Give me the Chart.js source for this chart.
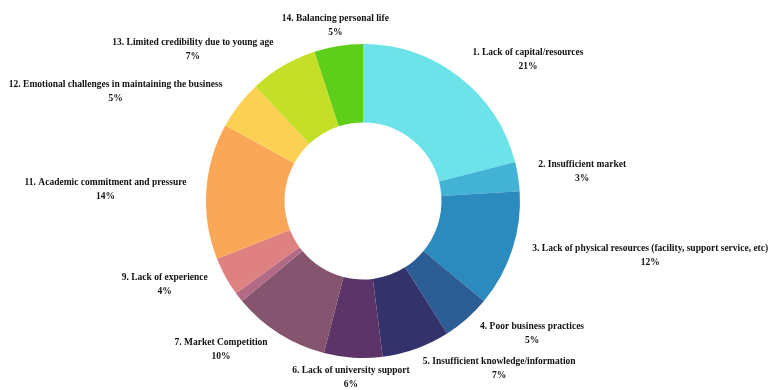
<!DOCTYPE html>
<html lang="en">
<head>
    <meta charset="UTF-8">
    <title>Challenges</title>
    <script src="https://cdn.jsdelivr.net/npm/chart.js@4.4.1/dist/chart.umd.min.js"></script>
    <style>
        body { margin: 0; background: #fff; }
        #wrap { width: 768px; height: 390px; position: relative; }
    </style>
</head>
<body>
<div id="wrap">
    <canvas id="chart"></canvas>
</div>
<script>
    const categories = [
        '1. Lack of capital/resources',
        '2. Insufficient market',
        '3. Lack of physical resources (facility, support service, etc)',
        '4. Poor business practices',
        '5. Insufficient knowledge/information',
        '6. Lack of university support',
        '7. Market Competition',
        '8.',
        '9. Lack of experience',
        '11. Academic commitment and pressure',
        '12. Emotional challenges in maintaining the business',
        '13. Limited credibility due to young age',
        '14. Balancing personal life'
    ];
    const shares = [21, 3, 12, 5, 7, 6, 10, 1, 4, 14, 5, 7, 5];
    const sliceColors = [
        '#6be3e8', '#43b3d5', '#2b8bbe', '#2c5e95', '#33326b', '#5c3468',
        '#85546f', '#b16b84', '#df8081', '#fba758', '#fcd052', '#c5de27', '#5ece1b'
    ];

    // labels sit outside the ring; a few are moved by hand so they don't crowd
    const labelNudge = [
        [20, 13], [-3, 1], [3, -6], [15, -14], [49, -16], [3, -18], [-20, -16],
        [0, 0], [-2, -10], [4, 1], [-20, 10], [-37, 16], [9, 17]
    ];

    const outsideLabels = {
        id: 'outsideLabels',
        afterDatasetsDraw(chart) {
            const ctx = chart.ctx;
            const arcs = chart.getDatasetMeta(0).data;
            ctx.save();
            ctx.font = 'bold 9.5px "Liberation Serif", "Times New Roman", serif';
            ctx.fillStyle = '#111';
            ctx.textAlign = 'center';
            ctx.textBaseline = 'middle';
            arcs.forEach((arc, i) => {
                if (shares[i] < 2) return;
                const p = arc.getProps(['x', 'y', 'startAngle', 'endAngle', 'outerRadius'], true);
                const mid = (p.startAngle + p.endAngle) / 2;
                const dx = Math.cos(mid), dy = Math.sin(mid);
                const line1 = categories[i];
                const line2 = shares[i] + '%';
                const w = Math.max(ctx.measureText(line1).width, ctx.measureText(line2).width);
                const h = 28;
                const r = p.outerRadius + 24;
                const cx = p.x + dx * r + dx * w / 2 + labelNudge[i][0];
                const cy = p.y + dy * r + dy * h / 2 + labelNudge[i][1];
                ctx.fillText(line1, cx, cy - 7);
                ctx.fillText(line2, cx, cy + 7);
            });
            ctx.restore();
        }
    };

    new Chart(document.getElementById('chart'), {
        type: 'doughnut',
        data: {
            labels: categories,
            datasets: [{
                data: shares,
                backgroundColor: sliceColors,
                borderWidth: 0
            }]
        },
        options: {
            responsive: true,
            maintainAspectRatio: false,
            animation: false,
            cutout: '50%',
            layout: { padding: { top: 44, bottom: 32, left: 0, right: 42 } },
            plugins: {
                legend: { display: false },
                tooltip: { enabled: false }
            }
        },
        plugins: [outsideLabels]
    });
</script>
</body>
</html>
